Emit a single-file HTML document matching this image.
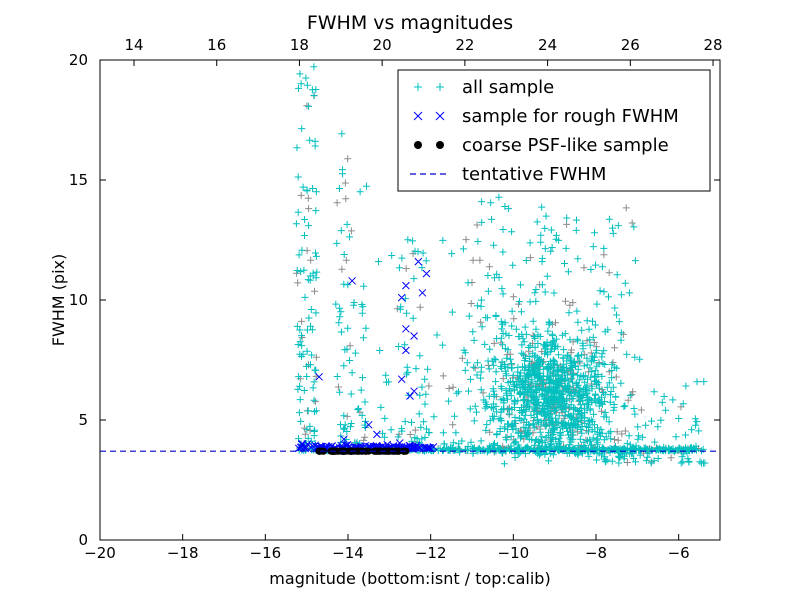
<!DOCTYPE html>
<html><head><meta charset="utf-8"><style>
html,body{margin:0;padding:0;background:#fff;}
svg text{font-family:"DejaVu Sans","Liberation Sans",sans-serif;}
</style></head><body>
<svg id="s" width="800" height="600" xmlns="http://www.w3.org/2000/svg">
<rect width="800" height="600" fill="#fff"/>
<g id="pts"></g>
<line x1="100" y1="451.2" x2="720" y2="451.2" stroke="#0000cc" stroke-width="1.2" stroke-dasharray="6,4"/>
<rect x="100" y="60" width="620" height="480" fill="none" stroke="#000" stroke-width="1"/>
<g id="ticks" stroke="#000" stroke-width="1"></g>
<g font-size="15" fill="#000" text-anchor="middle" id="labels"></g>
<text x="410" y="29" font-size="19" text-anchor="middle">FWHM vs magnitudes</text>
<text x="410" y="584" font-size="16" text-anchor="middle">magnitude (bottom:isnt / top:calib)</text>
<text x="0" y="0" font-size="16" text-anchor="middle" transform="translate(64,300) rotate(-90)">FWHM (pix)</text>
<g>
<rect x="398" y="70" width="312" height="121" fill="#fff" stroke="#000" stroke-width="1"/>
<g stroke="#00bfbf" stroke-width="1"><path d="M414 87h8M418 83v8M436 87h8M440 83v8"/></g>
<g stroke="#0000ff" stroke-width="1"><path d="M414 112l8 8M422 112l-8 8M436 112l8 8M444 112l-8 8"/></g>
<circle cx="418" cy="145" r="4" fill="#000"/><circle cx="440" cy="145" r="4" fill="#000"/>
<line x1="410" y1="174" x2="450" y2="174" stroke="#0000cc" stroke-width="1.2" stroke-dasharray="6,4"/>
<g font-size="18"><text x="462" y="93">all sample</text><text x="462" y="122">sample for rough FWHM</text><text x="462" y="151">coarse PSF-like sample</text><text x="462" y="180">tentative FWHM</text></g>
</g>
</svg>
<script>
var seed=12345;function r(){seed=(seed*1103515245+12345)%2147483648;return seed/2147483648;}
function g(){return (r()+r()+r()+r()-2)/0.58;}
function X(v){return 100+(v+20)*620/15;}function Y(v){return 540-v*24;}
var cy="",gr="",bl="",dots="";
function plus(x,y){var a=X(x),b=Y(y);if(b<60||b>540||a<100||a>720)return"";return"M"+(a-3.5).toFixed(1)+" "+b.toFixed(1)+"h7M"+a.toFixed(1)+" "+(b-3.5).toFixed(1)+"v7";}
function add(x,y){if(r()<0.15)gr+=plus(x,y);else cy+=plus(x,y);}
var i;
// band
for(i=0;i<450;i++){var x=-15.2+r()*9.8;add(x,3.72+Math.abs(g())*0.06);}
// streak 1
for(i=0;i<110;i++){var y=4+Math.pow(r(),1.8)*16;add(-15.25+r()*0.5,y);}
// streak 2
for(i=0;i<75;i++){var y=4+Math.pow(r(),1.6)*13;add(-14.3+r()*0.75,y);}
// streak 3
for(i=0;i<40;i++){var y=4+Math.pow(r(),1.4)*9;add(-12.8+r()*0.8,y);}
for(i=0;i<40;i++){add(-13.5+r()*2.5,4+Math.pow(r(),2)*8);}
// cloud core
for(i=0;i<900;i++){var x=-9.1+g()*0.75,y=5.8+g()*1.0+Math.max(0,g())*0.8;add(x,Math.max(2.6,y));}
// cloud wide
for(i=0;i<300;i++){var x=-9.3+g()*1.2,y=3.6+Math.pow(r(),2.2)*10;add(x,y);}
for(i=0;i<80;i++){add(-11+r()*4,7+Math.pow(r(),1.5)*8);}
for(i=0;i<100;i++){add(-8.2+r()*2.9,3.2+Math.pow(r(),2)*3.5);}
// blue x
function xx(x,y){var a=X(x),b=Y(y);bl+="M"+(a-3.5).toFixed(1)+" "+(b-3.5).toFixed(1)+"l7 7M"+(a+3.5).toFixed(1)+" "+(b-3.5).toFixed(1)+"l-7 7";}
for(i=0;i<130;i++){xx(-15.2+r()*3.3,3.8+Math.abs(g())*0.08);}
[[-14.7,6.8],[-13.9,10.8],[-12.6,8.8],[-12.6,7.9],[-12.7,10.1],[-12.6,10.6],[-12.3,11.6],[-12.1,11.1],[-12.2,10.3],[-12.5,6],[-12.4,6.2],[-12.7,6.7],[-12.4,8.5],[-13.5,4.8],[-13.3,4.4],[-14.1,4.2],[-15.1,4]].forEach(function(p){xx(p[0],p[1]);});
for(i=0;i<70;i++){var a=X(-14.8+r()*2.2),b=Y(3.7);dots+='<circle cx="'+a.toFixed(1)+'" cy="'+b+'" r="3.6"/>';}
document.getElementById("pts").innerHTML='<path d="'+gr+'" stroke="#8c8c8c" stroke-width="1" fill="none"/><path d="'+cy+'" stroke="#00bfbf" stroke-width="1" fill="none"/><path d="'+bl+'" stroke="#0000ff" stroke-width="1" fill="none"/><g fill="#000">'+dots+'</g>';
var t="",l="";
[-20,-18,-16,-14,-12,-10,-8,-6].forEach(function(v){var a=X(v);t+='<path d="M'+a+' 540v-6"/>';l+='<text x="'+a+'" y="558">'+(v<0?'\u2212'+(-v):v)+'</text>';});
[14,16,18,20,22,24,26,28].forEach(function(v){var a=134+(v-14)*41.36;t+='<path d="M'+a+' 60v6"/>';l+='<text x="'+a+'" y="50">'+v+'</text>';});
[0,5,10,15,20].forEach(function(v){var b=Y(v);t+='<path d="M100 '+b+'h6M720 '+b+'h-6"/>';l+='<text x="88" y="'+(b+5)+'" text-anchor="end">'+v+'</text>';});
document.getElementById("ticks").innerHTML=t;document.getElementById("labels").innerHTML=l;
</script>
</body></html>
